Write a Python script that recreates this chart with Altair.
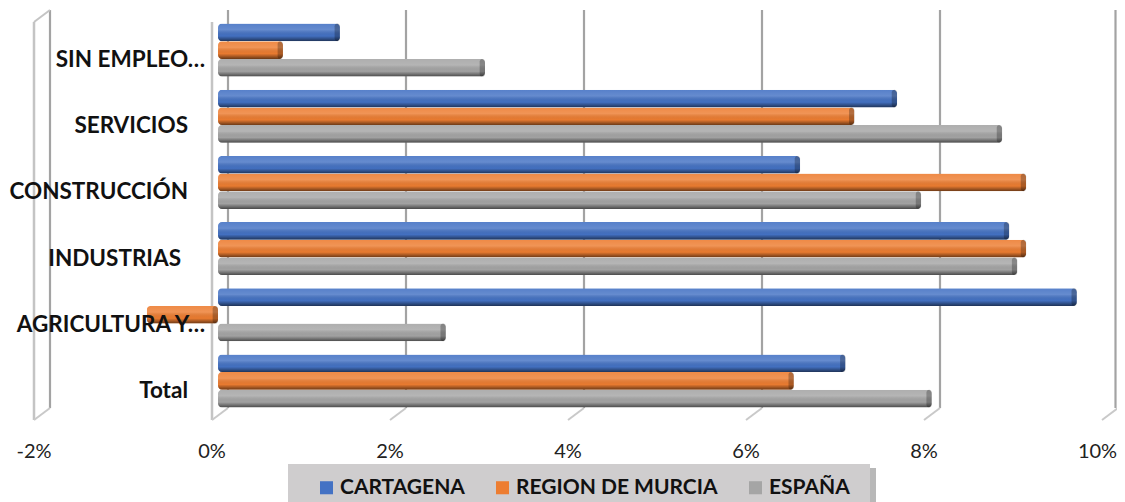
import altair as alt
import pandas as pd

categories = ["SIN EMPLEO…", "SERVICIOS", "CONSTRUCCIÓN", "INDUSTRIAS", "AGRICULTURA Y…", "Total"]
series_names = ["CARTAGENA", "REGION DE MURCIA", "ESPAÑA"]
cartagena = [1.37, 7.63, 6.54, 8.89, 9.65, 7.05]
murcia = [0.73, 7.15, 9.08, 9.08, -0.80, 6.47]
espana = [3.00, 8.81, 7.90, 8.98, 2.56, 8.02]
colors = ["#4472c4", "#ed7d31", "#a5a5a5"]
ticks = [-2, 0, 2, 4, 6, 8, 10]

rows = []
for name, vals in zip(series_names, [cartagena, murcia, espana]):
    for c, v in zip(categories, vals):
        rows.append({"cat": c, "serie": name, "val": v})
df = pd.DataFrame(rows)
tick_df = pd.DataFrame({"t": ticks})
cat_df = pd.DataFrame({"cat": categories})

FONT = "Lato"
x_scale = alt.Scale(domain=[-2, 10], nice=False, zero=False)
y_scale = alt.Scale(domain=categories, paddingInner=0.2, paddingOuter=0.1)
off_scale = alt.Scale(domain=series_names, paddingInner=0.0, paddingOuter=0.0)

X = alt.X("val:Q", scale=x_scale, title=None, axis=None)
Y = alt.Y("cat:N", scale=y_scale, title=None, axis=None)
YO = alt.YOffset("serie:N", scale=off_scale, sort=series_names)

Xt = alt.X("t:Q", scale=x_scale, title=None, axis=None)

back = alt.Chart(tick_df).transform_filter("datum.t < 10").mark_rule(
    color="#a3a3a3", strokeWidth=2.2, xOffset=10).encode(
    x=Xt, y=alt.value(-7), y2=alt.value(391))
back_last = alt.Chart(tick_df).transform_filter("datum.t == 10").mark_rule(
    color="#a3a3a3", strokeWidth=2.2, xOffset=7.5).encode(
    x=Xt, y=alt.value(-7), y2=alt.value(391))
front = alt.Chart(tick_df).transform_filter("datum.t <= 0").mark_rule(
    color="#c4c4c4", strokeWidth=2.5, xOffset=-6).encode(
    x=Xt, y=alt.value(5), y2=alt.value(403))
foot = alt.Chart(tick_df).mark_rule(color="#c9c9c9", strokeWidth=2, xOffset=10, x2Offset=-6).encode(
    x=Xt, x2=alt.X2("t:Q"), y=alt.value(391), y2=alt.value(403))
top = alt.Chart(tick_df).transform_filter("datum.t == -2").mark_rule(
    color="#c4c4c4", strokeWidth=2, xOffset=10, x2Offset=-6).encode(
    x=Xt, x2=alt.X2("t:Q"), y=alt.value(-7), y2=alt.value(5))

def tick_text(cond, off):
    return alt.Chart(tick_df).transform_filter(cond).transform_calculate(
        lab="datum.t + '%'"
    ).mark_text(align="center", baseline="middle", font=FONT, fontSize=20, color="#222222",
                xOffset=off).encode(x=Xt, y=alt.value(435), text="lab:N")

tick_a = tick_text("datum.t < 10", -6)
tick_b = tick_text("datum.t == 10", -10.5)

bars = alt.Chart(df).mark_bar(cornerRadius=4).encode(
    x=X, y=Y, yOffset=YO,
    color=alt.Color("serie:N", scale=alt.Scale(domain=series_names, range=colors), title=None,
                    legend=alt.Legend(orient="none", legendX=276, legendY=460, direction="horizontal",
                                      columns=3, columnPadding=27, symbolType="square", symbolSize=170,
                                      symbolStrokeWidth=0, symbolOpacity=1, labelFont=FONT, labelFontSize=21,
                                      labelFontWeight="bold", labelColor="#111111", labelOffset=3,
                                      padding=0, labelLimit=300)))
shade = alt.Gradient(gradient="linear", x1=0, y1=0, x2=0, y2=1, stops=[
    alt.GradientStop(offset=0, color="rgba(255,255,255,0.10)"),
    alt.GradientStop(offset=0.35, color="rgba(255,255,255,0.18)"),
    alt.GradientStop(offset=0.7, color="rgba(0,0,0,0.02)"),
    alt.GradientStop(offset=1, color="rgba(0,0,0,0.55)"),
])
gloss = alt.Chart(df).mark_bar(cornerRadius=4, fill=shade).encode(x=X, y=Y, yOffset=YO)
cap = alt.Chart(df).transform_calculate(
    e="max(datum.val, 0)", s="max(datum.val, 0) - 0.06"
).mark_bar(cornerRadius=3, color="#000000", opacity=0.25).encode(
    x=alt.X("s:Q", scale=x_scale, title=None, axis=None), x2=alt.X2("e:Q"), y=Y, yOffset=YO)

def labels(names, right):
    return alt.Chart(cat_df).transform_filter(
        alt.FieldOneOfPredicate(field="cat", oneOf=names)
    ).mark_text(align="right", baseline="middle", dy=10, font=FONT, fontSize=22.5, fontWeight="bold",
                color="#111111").encode(x=alt.value(right), y=Y, text="cat:N")

lab_a = labels(["SIN EMPLEO…", "AGRICULTURA Y…"], 165)
lab_b = labels(["SERVICIOS", "CONSTRUCCIÓN", "Total"], 148)
lab_c = labels(["INDUSTRIAS"], 141)

leg_shadow = alt.Chart(cat_df.head(1)).mark_rect(color="#9a9a9a", opacity=0.7).encode(
    x=alt.value(254), x2=alt.value(836), y=alt.value(451), y2=alt.value(490))
leg_bg = alt.Chart(cat_df.head(1)).mark_rect(color="#cfcdce").encode(
    x=alt.value(248), x2=alt.value(830), y=alt.value(447), y2=alt.value(490))

chart = alt.layer(
    back, back_last, front, foot, top, leg_shadow, leg_bg, bars, gloss, cap,
    lab_a, lab_b, lab_c, tick_a, tick_b
).resolve_scale(x="shared", y="shared").properties(
    width=1068, height=397,
    padding={"left": 32, "top": 9, "right": 9, "bottom": 88},
    autosize=alt.AutoSizeParams(type="none"),
    background="white",
).configure_view(stroke=None)

chart.save("out.html", embed_options={"renderer": "svg", "actions": False})
